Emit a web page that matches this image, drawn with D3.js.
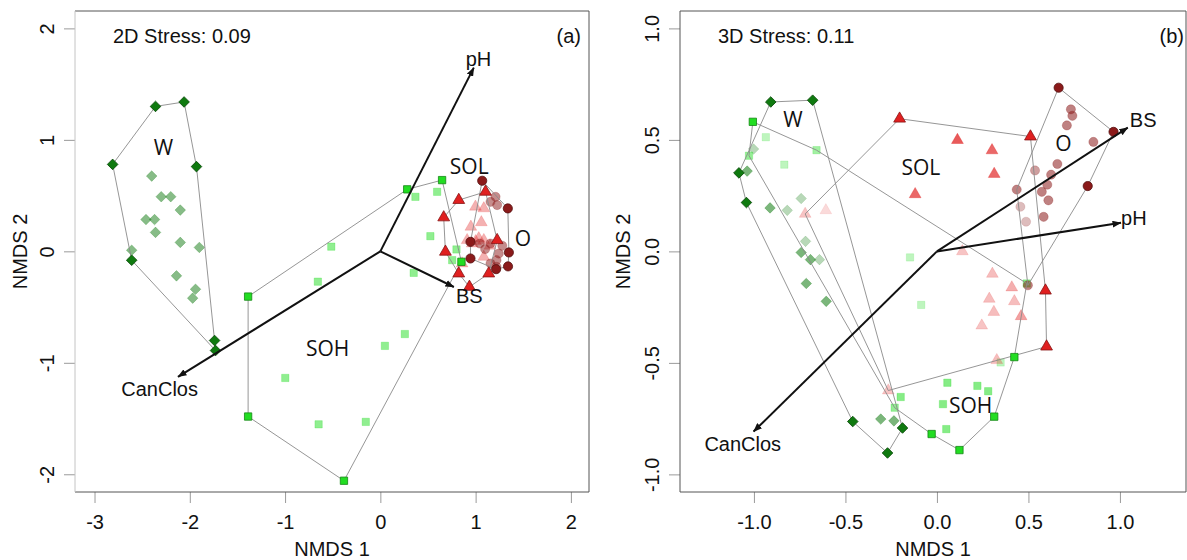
<!DOCTYPE html>
<html>
<head>
<meta charset="utf-8">
<script src="https://cdn.jsdelivr.net/npm/d3@7"></script>
<style>
body { margin: 0; background: #fff; }
svg { display: block; font-family: Arial, "Liberation Sans", sans-serif; }
</style>
</head>
<body>
<svg id="chart" width="1187" height="560"></svg>
<script>
// ---- panel (a): 2D NMDS, [NMDS1, NMDS2]
var wA = [[-2.36, 1.30], [-2.06, 1.34], [-2.81, 0.78], [-1.93, 0.76], [-2.61, 0.01], [-2.61, -0.08], [-1.74, -0.80], [-1.73, -0.89],
  [-2.40, 0.675], [-2.30, 0.49], [-2.20, 0.49], [-2.10, 0.37], [-2.46, 0.285], [-2.37, 0.285], [-2.36, 0.17], [-2.10, 0.08],
  [-1.90, 0.035], [-2.14, -0.22], [-1.94, -0.34], [-1.97, -0.42]];
var sohA = [[-1.388, -0.406], [-1.388, -1.482], [-0.382, -2.058], [0.282, 0.556], [0.648, 0.639],
  [0.368, 0.489], [0.596, 0.534], [-0.515, 0.042], [-0.656, -0.272], [0.525, 0.136], [0.799, 0.017], [0.754, -0.079],
  [0.851, -0.094], [0.350, -0.193], [0.048, -0.848], [0.257, -0.742], [-0.998, -1.136], [-0.648, -1.552], [-0.153, -1.530]];
var solA = [[0.823, 0.46], [0.665, 0.304], [1.104, 0.534], [0.998, 0.40], [1.086, 0.385], [0.911, 0.10], [1.033, 0.116],
  [1.086, 0.10], [1.226, 0.10], [0.683, -0.004], [0.964, 0.07], [1.086, -0.05], [0.858, -0.109], [0.823, -0.199],
  [1.138, -0.199], [0.935, -0.319], [1.0, 0.09], [1.15, 0.05], [0.95, 0.22], [1.06, 0.26]];
var oA = [[1.069, 0.633], [1.209, 0.489], [1.156, 0.444], [1.226, 0.415], [1.338, 0.385], [0.946, 0.085], [1.044, 0.07],
  [1.156, 0.07], [1.243, -0.02], [1.349, -0.01], [1.219, -0.079], [0.946, -0.064], [1.219, -0.139], [1.340, -0.135],
  [1.156, -0.109], [1.215, -0.16], [1.1, 0.02], [1.28, 0.05]];
var vecA = [["pH", 0.981, 1.648], ["BS", 0.772, -0.320], ["CanClos", -2.124, -1.126]];
var vecLabA = [["pH", 1.03, 1.728], ["BS", 0.933, -0.397], ["CanClos", -2.317, -1.232]];
var grpLabA = [["W", -2.277, 0.934], ["SOL", 0.933, 0.765], ["O", 1.496, 0.118], ["SOH", -0.554, -0.872]];

// ---- panel (b): 3D NMDS, [NMDS1, NMDS2, NMDS3]
var wB = [[-0.908, 0.670, 0.35], [-0.679, 0.678, 0.35], [-1.082, 0.352, 0.35], [-1.041, 0.219, 0.35], [-0.460, -0.763, 0.35],
  [-0.270, -0.904, 0.35], [-0.188, -0.792, 0.35], [-1.002, 0.459, -0.2], [-1.037, 0.360, 0.0], [-0.912, 0.195, 0.0],
  [-0.742, 0.237, -0.2], [-0.818, 0.184, -0.2], [-0.718, 0.045, -0.2], [-0.742, -0.005, 0.0], [-0.691, -0.037, 0.0],
  [-0.642, -0.037, -0.2], [-0.714, -0.144, 0.0], [-0.605, -0.224, 0.0], [-0.307, -0.752, 0.0], [-0.235, -0.760, 0.0]];
var sohB = [[-1.006, 0.581, 0.35], [-0.935, 0.512, -0.2], [-0.658, 0.454, -0.1], [-0.834, 0.389, -0.2], [-1.027, 0.429, -0.05],
  [-0.147, -0.027, -0.2], [-0.086, -0.240, -0.2], [0.057, -0.589, 0.0], [0.221, -0.603, 0.0], [0.280, -0.627, 0.0],
  [0.423, -0.474, 0.35], [0.348, -0.498, -0.2], [0.313, -0.741, 0.35], [0.123, -0.891, 0.35], [-0.029, -0.819, 0.35],
  [0.051, -0.797, 0.0], [0.033, -0.685, 0.0], [-0.198, -0.653, 0.0], [-0.231, -0.701, -0.05], [0.491, -0.144, 0.0]];
var solB = [[-0.204, 0.595, 0.35], [0.112, 0.499, 0.15], [0.511, 0.515, 0.35], [0.301, 0.453, 0.1], [0.313, 0.347, 0.1],
  [-0.119, 0.256, 0.1], [-0.720, 0.168, -0.22], [-0.607, 0.184, -0.3], [0.139, 0.0, -0.22], [0.303, -0.101, -0.2],
  [0.409, -0.162, -0.15], [0.286, -0.213, -0.2], [0.423, -0.224, -0.2], [0.311, -0.272, -0.2], [0.460, -0.291, -0.1],
  [0.245, -0.333, -0.22], [0.593, -0.176, 0.35], [0.599, -0.427, 0.35], [0.327, -0.488, -0.2], [-0.266, -0.624, -0.22]];
var oB = [[0.665, 0.734, 0.35], [0.732, 0.637, 0.0], [0.740, 0.608, 0.0], [0.710, 0.565, 0.0], [0.965, 0.536, 0.35],
  [0.855, 0.491, 0.0], [0.658, 0.392, 0.0], [0.536, 0.363, -0.1], [0.624, 0.344, 0.0], [0.603, 0.299, 0.0],
  [0.436, 0.277, 0.0], [0.573, 0.267, 0.0], [0.609, 0.229, 0.0], [0.824, 0.293, 0.35], [0.456, 0.200, -0.2],
  [0.583, 0.155, 0.0], [0.487, 0.133, -0.2], [0.497, -0.152, 0.0]];
var vecB = [["BS", 1.043, 0.555], ["pH", 1.006, 0.128], ["CanClos", -1.002, -0.808]];
var vecLabB = [["BS", 1.127, 0.592], ["pH", 1.076, 0.149], ["CanClos", -1.061, -0.864]];
var grpLabB = [["W", -0.787, 0.592], ["SOL", -0.088, 0.376], ["O", 0.691, 0.485], ["SOH", 0.184, -0.693]];

var ticksA = [-3, -2, -1, 0, 1, 2], yticksA = [-2, -1, 0, 1, 2];
var ticksB = [-1, -0.5, 0, 0.5, 1], yticksB = [-1, -0.5, 0, 0.5, 1];

var groups = ["W", "SOH", "SOL", "O"];
var colors = { W: "#0f7a0f", SOH: "#22dd22", SOL: "#e02020", O: "#8b1a1a" };
var shapes = { W: d3.symbolSquare, SOH: d3.symbolSquare, SOL: d3.symbolTriangle, O: d3.symbolCircle };
var sizes = { W: 56, SOH: 54, SOL: 60, O: 66 };

var svg = d3.select("#chart");
var plotTop = 11, plotBottom = 492;

function drawPanel(p) {
  var g = svg.append("g");
  var x = d3.scaleLinear().domain(p.xlim).range([p.left, p.right]);
  var y = d3.scaleLinear().domain(p.ylim).range([plotBottom, plotTop]);
  var alpha = d3.scaleLinear().domain([-0.35, 0.35]).range([0.1, 1]).clamp(true);

  // axes
  var xa = g.append("g").attr("transform", "translate(0," + plotBottom + ")")
    .call(d3.axisBottom(x).tickValues(p.xticks).tickFormat(p.fmt).tickSize(11).tickPadding(12).tickSizeOuter(0));
  var ya = g.append("g").attr("transform", "translate(" + p.left + ",0)")
    .call(d3.axisLeft(y).tickValues(p.yticks).tickFormat(p.fmt).tickSize(11).tickSizeOuter(0));
  [xa, ya].forEach(function (a) {
    a.select(".domain").remove();
    a.attr("font-size", 20).attr("font-family", "Arial, 'Liberation Sans', sans-serif");
    a.selectAll(".tick line").attr("stroke", "#9a9a9a");
    a.selectAll(".tick text").attr("fill", "#111");
  });
  ya.selectAll(".tick text").attr("transform", "rotate(-90)").attr("x", 0).attr("y", -21)
    .attr("dy", null).attr("text-anchor", "middle");

  // box
  g.append("path").attr("d", "M" + p.left + "," + plotTop + "H" + p.right + "V" + plotBottom + "H" + p.left)
    .attr("fill", "none").attr("stroke", "#555");
  g.append("line").attr("x1", p.left).attr("x2", p.left).attr("y1", plotTop).attr("y2", plotBottom)
    .attr("stroke", p.leftCol);

  g.append("text").attr("x", (p.left + p.right) / 2).attr("y", 556).attr("text-anchor", "middle")
    .attr("font-size", 20).attr("fill", "#111").text("NMDS 1");
  g.append("text").attr("transform", "translate(" + p.ylabX + "," + (plotTop + plotBottom) / 2 + ") rotate(-90)")
    .attr("text-anchor", "middle").attr("font-size", 20).attr("fill", "#111").text("NMDS 2");

  // point sets with hulls
  var sets = p.sets.map(function (pts, i) {
    var grp = groups[i];
    var px = pts.map(function (d) { return [x(d[0]), y(d[1])]; });
    var hull = d3.polygonHull(px);
    var rows = pts.map(function (d, j) {
      var op, strong;
      if (p.is3d) { op = alpha(d[2]); strong = d[2] >= 0.3; }
      else { strong = hull.indexOf(px[j]) >= 0; op = strong ? 1 : (grp === "SOL" ? 0.35 : 0.5); }
      return { grp: grp, x: px[j][0], y: px[j][1], op: op, strong: strong, z: p.is3d ? d[2] : (strong ? 1 : 0) };
    });
    return { grp: grp, hull: hull, rows: rows };
  });

  function drawPoints(rows) {
    rows.sort(function (a, b) { return a.z - b.z; });
    g.append("g").selectAll("path").data(rows).enter().append("path")
      .attr("d", function (d) { return d3.symbol().type(shapes[d.grp]).size(sizes[d.grp])(); })
      .attr("transform", function (d) {
        return "translate(" + d.x + "," + d.y + ")" + (d.grp === "W" ? " rotate(45)" : "");
      })
      .attr("fill", function (d) { return colors[d.grp]; })
      .attr("fill-opacity", function (d) { return d.op; })
      .attr("stroke", function (d) { return d.strong ? d3.color(colors[d.grp]).darker(1.4) : colors[d.grp]; })
      .attr("stroke-opacity", function (d) { return d.strong ? 1 : d.op * 0.6; })
      .attr("stroke-width", 0.8);
  }

  var light = [], dark = [];
  sets.forEach(function (s) { s.rows.forEach(function (r) { (r.strong ? dark : light).push(r); }); });
  drawPoints(light);

  g.append("g").selectAll("path").data(sets).enter().append("path")
    .attr("d", function (s) { return "M" + s.hull.join("L") + "Z"; })
    .attr("fill", "none").attr("stroke", "#8a8a8a").attr("stroke-width", 0.9);

  drawPoints(dark);

  // fitted vectors
  var id = "ah" + p.name;
  svg.append("defs").append("marker").attr("id", id).attr("viewBox", "0 0 9 7")
    .attr("refX", 8.5).attr("refY", 3.5).attr("markerWidth", 9).attr("markerHeight", 7)
    .attr("markerUnits", "userSpaceOnUse").attr("orient", "auto")
    .append("path").attr("d", "M0,0L9,3.5L0,7Z").attr("fill", "#111");
  g.append("g").selectAll("line").data(p.vec).enter().append("line")
    .attr("x1", x(0)).attr("y1", y(0))
    .attr("x2", function (d) { return x(d[1]); }).attr("y2", function (d) { return y(d[2]); })
    .attr("stroke", "#111").attr("stroke-width", 2).attr("marker-end", "url(#" + id + ")");
  g.append("g").selectAll("text").data(p.vecLab).enter().append("text")
    .attr("x", function (d) { return x(d[1]); }).attr("y", function (d) { return y(d[2]); })
    .attr("dy", "0.36em").attr("text-anchor", "middle").attr("font-size", 20).attr("fill", "#111")
    .text(function (d) { return d[0]; });

  g.append("g").selectAll("text").data(p.grpLab).enter().append("text")
    .attr("x", function (d) { return x(d[1]); }).attr("y", function (d) { return y(d[2]); })
    .attr("dy", "0.36em").attr("text-anchor", "middle").attr("font-size", 21)
    .attr("font-family", "'Open Sans', 'Noto Sans', sans-serif").attr("fill", "#111")
    .text(function (d) { return d[0]; });

  g.append("text").attr("x", p.left + 38).attr("y", 43).attr("font-size", 20).attr("fill", "#111").text(p.stress);
  g.append("text").attr("x", p.tagX).attr("y", 43).attr("text-anchor", "end").attr("font-size", 20)
    .attr("fill", "#111").text(p.tag);
}

drawPanel({
  name: "a", left: 75, right: 589, xlim: [-3.205, 2.19], ylim: [-2.159, 2.156],
  xticks: ticksA, yticks: yticksA, fmt: function (d) { return String(d); },
  sets: [wA, sohA, solA, oA], is3d: false, vec: vecA, vecLab: vecLabA, grpLab: grpLabA,
  stress: "2D Stress: 0.09", tag: "(a)", tagX: 581, ylabX: 27, leftCol: "#c4c4c4"
});
drawPanel({
  name: "b", left: 680, right: 1186, xlim: [-1.404, 1.361], ylim: [-1.079, 1.078],
  xticks: ticksB, yticks: yticksB, fmt: function (d) { return d.toFixed(1); },
  sets: [wB, sohB, solB, oB], is3d: true, vec: vecB, vecLab: vecLabB, grpLab: grpLabB,
  stress: "3D Stress: 0.11", tag: "(b)", tagX: 1184, ylabX: 630, leftCol: "#555"
});
</script>
</body>
</html>
